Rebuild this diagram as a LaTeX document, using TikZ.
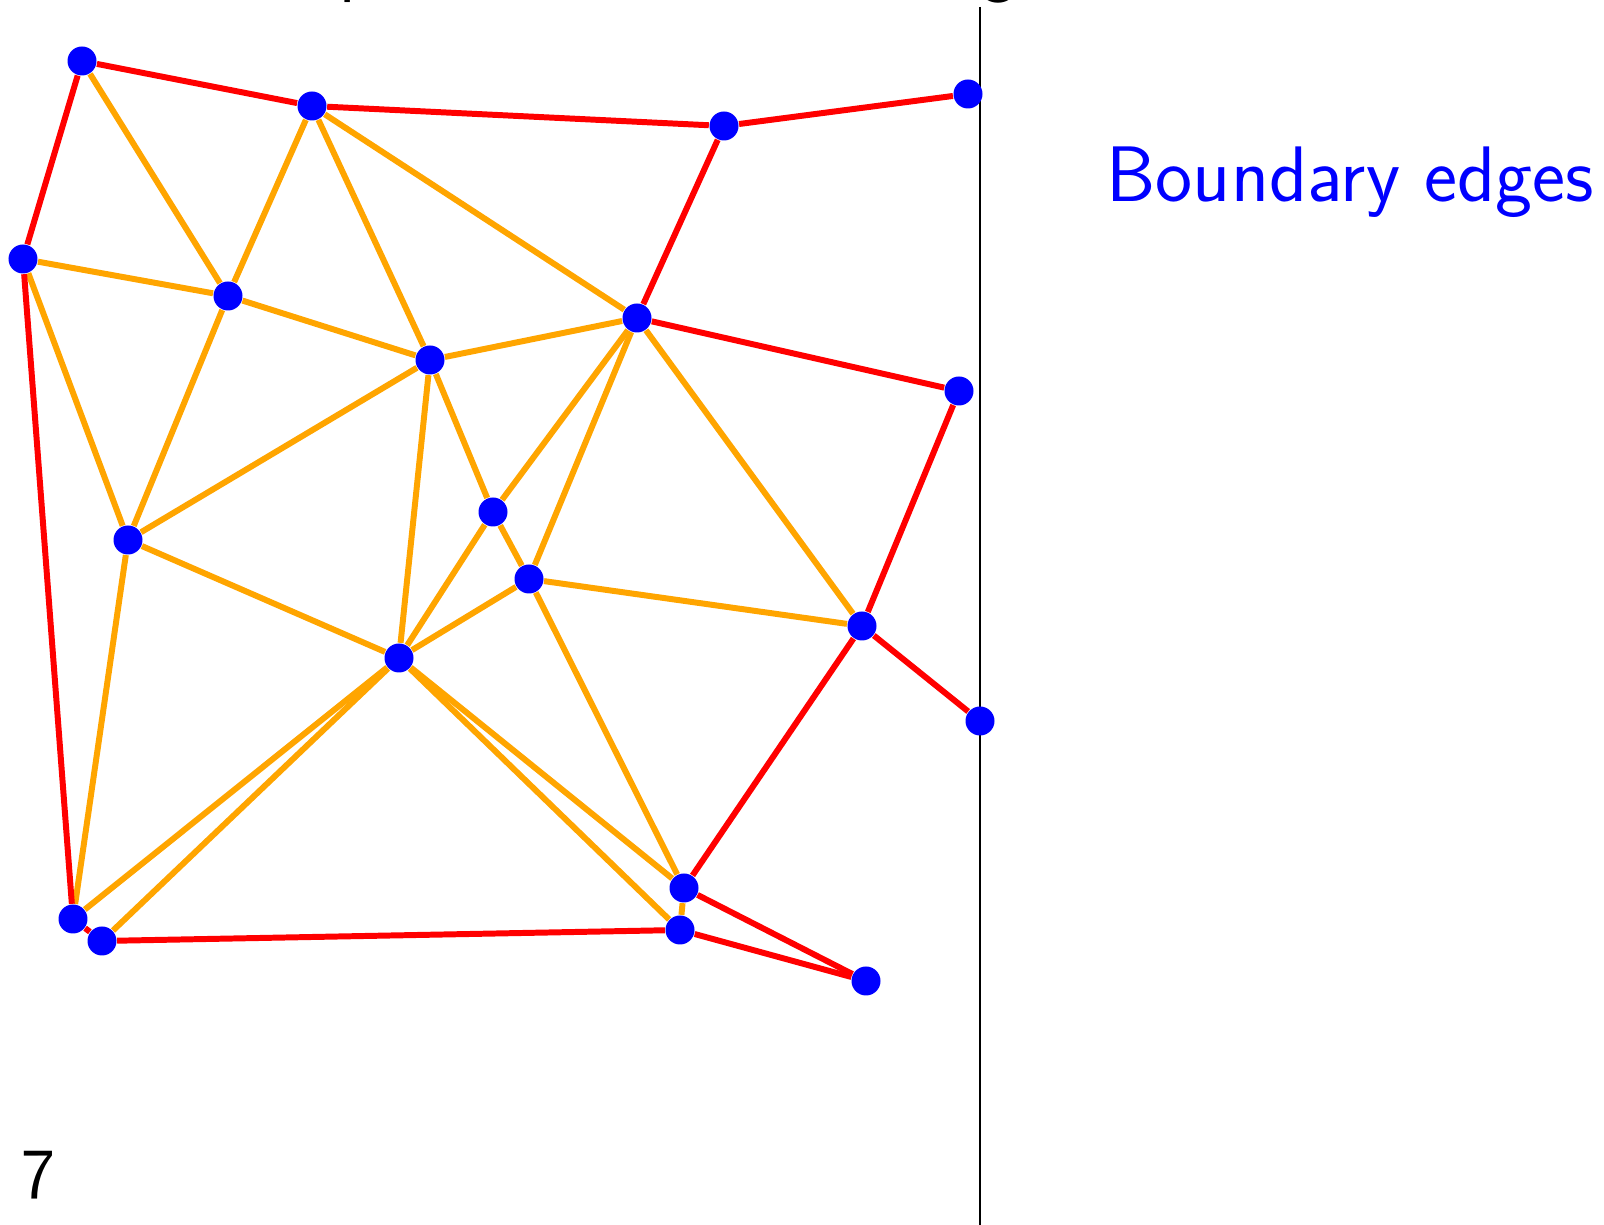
\documentclass[tikz,border=0pt]{standalone}
\usepackage{tikz}
\usetikzlibrary{backgrounds}
\definecolor{edgeRed}{RGB}{255,0,0}
\definecolor{edgeOrange}{RGB}{255,165,0}
\definecolor{vtxBlue}{RGB}{0,0,255}
\tikzset{
  vtx/.style    = {circle, fill=vtxBlue, inner sep=0pt, minimum size=0.29cm},
  inedge/.style = {edgeOrange, line width=1.7pt},
  bdedge/.style = {edgeRed, line width=1.7pt},
  wall/.style   = {black, line width=0.8pt},
  lbl/.style    = {font=\sffamily\fontsize{20.5}{24}\selectfont, inner sep=0pt},
  biglbl/.style = {font=\sffamily\fontsize{22.4}{27}\selectfont, inner sep=0pt}
}

\begin{document}
\begin{tikzpicture}
\useasboundingbox (0,0) rectangle (16.04,-12.25);
% title, cut off at the top edge
\begin{scope}
  \clip (0,0) rectangle (16.04,-12.25);
  \node[lbl, anchor=base west] (ttlp) at (3.39,0.11) {p};
  \node[lbl, anchor=base west] (ttlg) at (9.81,0.11) {g};
\end{scope}
% mesh vertices
\node[vtx] (a) at (0.82,-0.61) {};
\node[vtx] (b) at (3.12,-1.06) {};
\node[vtx] (c) at (7.24,-1.26) {};
\node[vtx] (d) at (9.68,-0.94) {};
\node[vtx] (e) at (0.23,-2.59) {};
\node[vtx] (f) at (2.28,-2.96) {};
\node[vtx] (g) at (4.30,-3.60) {};
\node[vtx] (h) at (6.37,-3.18) {};
\node[vtx] (i) at (9.59,-3.91) {};
\node[vtx] (j) at (4.93,-5.12) {};
\node[vtx] (k) at (1.28,-5.40) {};
\node[vtx] (l) at (5.29,-5.79) {};
\node[vtx] (m) at (8.62,-6.26) {};
\node[vtx] (n) at (9.80,-7.21) {};
\node[vtx] (o) at (3.99,-6.58) {};
\node[vtx] (p) at (6.84,-8.88) {};
\node[vtx] (q) at (6.80,-9.30) {};
\node[vtx] (r) at (0.73,-9.19) {};
\node[vtx] (s) at (1.02,-9.41) {};
\node[vtx] (t) at (8.66,-9.81) {};
% separator
\coordinate (wtop) at (9.80,-0.07);
\coordinate (wbot) at (9.80,-12.25);
\begin{scope}[on background layer]
  \draw[wall] (wtop) -- (wbot);
  % interior edges
  \foreach \u/\v in {a/f, e/f, e/k, b/f, b/g, b/h, f/g, f/k, g/h, g/k,
                     g/j, g/o, h/j, h/l, h/m, j/l, j/o, l/o, l/m, l/p,
                     k/o, k/r, o/r, o/s, o/p, o/q, p/q}
    \draw[inedge] (\u) -- (\v);
  % boundary edges
  \foreach \u/\v in {a/b, b/c, c/d, a/e, e/r, r/s, s/q, q/t, p/t, p/m,
                     m/n, m/i, i/h, h/c}
    \draw[bdedge] (\u) -- (\v);
\end{scope}
\node[biglbl, text=vtxBlue, anchor=base west] (title) at (11.06,-2.02) {Boundary edges};
\node[lbl, anchor=base west] (pgnum) at (0.21,-11.99) {7};
\end{tikzpicture}
\end{document}
